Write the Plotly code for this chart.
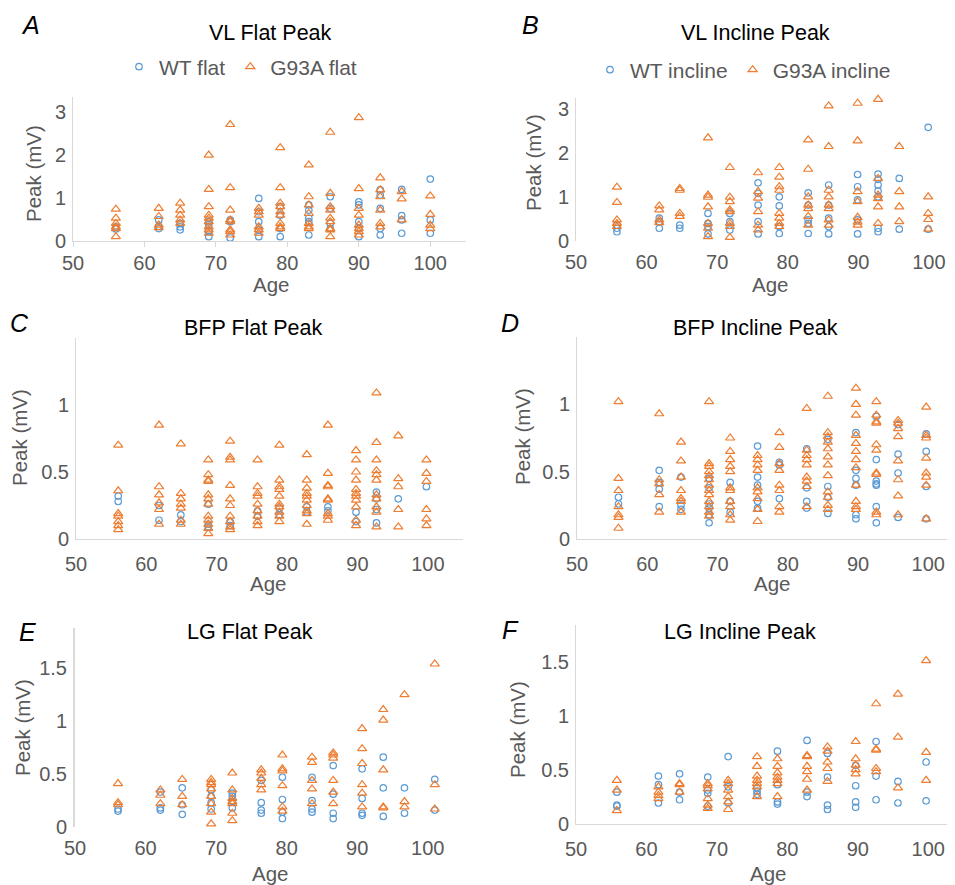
import plotly.graph_objects as go

# ---------------- data ----------------
ages_A = [56, 62, 65, 69, 72, 76, 79, 83, 86, 90, 93, 96, 100]
wt_A = [[0.33, 0.28], [0.49, 0.34, 0.29], [0.41, 0.33, 0.26], [0.45, 0.38, 0.22, 0.10],
        [0.49, 0.45, 0.07], [0.99, 0.68, 0.45, 0.26, 0.10], [0.80, 0.60, 0.29, 0.10],
        [0.84, 0.72, 0.53, 0.45, 0.14], [1.03, 0.76, 0.41, 0.29], [0.91, 0.84, 0.45, 0.29, 0.10],
        [1.19, 1.07, 0.76, 0.29, 0.14], [1.20, 0.59, 0.49, 0.18], [1.44, 0.49, 0.18]]
g93a_A = [[0.74, 0.53, 0.41, 0.33, 0.29, 0.10], [0.76, 0.57, 0.37, 0.31], [0.88, 0.72, 0.60, 0.49, 0.41],
          [2.00, 1.20, 0.80, 0.60, 0.53, 0.45, 0.33, 0.26, 0.18], [2.71, 1.24, 0.72, 0.49, 0.45, 0.26, 0.22, 0.14],
          [0.76, 0.68, 0.60, 0.33, 0.26, 0.18], [2.17, 1.24, 0.88, 0.80, 0.68, 0.60, 0.41, 0.33, 0.29],
          [1.77, 1.03, 0.84, 0.64, 0.41, 0.33, 0.29], [2.53, 1.11, 0.80, 0.72, 0.53, 0.45, 0.29, 0.26, 0.10],
          [2.87, 1.22, 0.76, 0.60, 0.37, 0.29, 0.22, 0.14], [1.47, 1.19, 1.03, 0.72, 0.41, 0.33],
          [1.15, 0.98, 0.49], [1.05, 0.62, 0.37, 0.29]]

ages_B = [55.8, 61.8, 64.7, 68.7, 71.8, 75.8, 78.8, 82.9, 85.8, 89.9, 92.8, 95.8, 99.9]
wt_B = [[0.35, 0.28, 0.20], [0.51, 0.43, 0.28], [0.35, 0.28], [0.62, 0.39, 0.32, 0.15],
        [0.62, 0.43, 0.24], [1.32, 1.08, 0.81, 0.43, 0.15], [1.00, 0.79, 0.32, 0.16],
        [1.09, 0.81, 0.47, 0.39, 0.16], [1.27, 0.81, 0.51, 0.32, 0.15], [1.51, 1.23, 0.93, 0.47, 0.15],
        [1.52, 1.40, 1.27, 1.13, 1.00, 0.28, 0.20], [1.42, 0.26], [2.59, 0.26]]
g93a_B = [[1.22, 0.87, 0.47, 0.39, 0.32], [0.79, 0.70, 0.47, 0.41], [1.19, 1.15, 0.62, 0.55],
          [2.35, 1.04, 0.99, 0.77, 0.39, 0.28, 0.09], [1.67, 0.99, 0.89, 0.70, 0.66, 0.39, 0.32, 0.07],
          [1.55, 1.12, 0.97, 0.66, 0.35, 0.24], [1.67, 1.45, 1.23, 1.15, 0.62, 0.51, 0.39, 0.32],
          [2.30, 1.63, 1.00, 0.81, 0.73, 0.55, 0.35], [3.08, 2.15, 1.15, 1.00, 0.81, 0.73, 0.47, 0.35],
          [3.14, 2.28, 1.12, 0.89, 0.53, 0.42, 0.35], [3.23, 1.42, 1.04, 0.96, 0.77, 0.39],
          [2.15, 1.12, 0.77, 0.43], [1.00, 0.62, 0.48, 0.26]]

ages_C = [56.0, 61.8, 64.9, 68.8, 71.9, 75.8, 78.9, 82.8, 85.8, 89.8, 92.7, 95.8, 99.8]
wt_C = [[0.32, 0.28], [0.25, 0.14], [0.18, 0.13], [0.26, 0.11, 0.09], [0.13, 0.10], [0.21, 0.17],
        [0.23, 0.18], [0.24, 0.20], [0.24, 0.21], [0.20, 0.13], [0.35, 0.30, 0.22, 0.12], [0.30], [0.39]]
g93a_C = [[0.70, 0.36, 0.19, 0.17, 0.13, 0.10, 0.07], [0.85, 0.39, 0.33, 0.27, 0.22, 0.11],
          [0.71, 0.34, 0.30, 0.26, 0.23, 0.14, 0.11],
          [0.59, 0.48, 0.44, 0.43, 0.33, 0.30, 0.26, 0.17, 0.14, 0.11, 0.08, 0.04],
          [0.73, 0.61, 0.59, 0.40, 0.30, 0.25, 0.17, 0.13, 0.09, 0.07],
          [0.59, 0.39, 0.34, 0.32, 0.26, 0.21, 0.17, 0.13, 0.10],
          [0.70, 0.44, 0.39, 0.37, 0.32, 0.26, 0.24, 0.20, 0.17, 0.13],
          [0.63, 0.44, 0.38, 0.34, 0.32, 0.29, 0.25, 0.21, 0.19, 0.11],
          [0.85, 0.49, 0.40, 0.39, 0.30, 0.29, 0.19, 0.17, 0.14],
          [0.66, 0.59, 0.50, 0.44, 0.37, 0.34, 0.32, 0.29, 0.24, 0.14, 0.10],
          [1.09, 0.72, 0.59, 0.51, 0.48, 0.44, 0.33, 0.30, 0.24, 0.20, 0.09],
          [0.77, 0.45, 0.39, 0.22, 0.09], [0.59, 0.49, 0.43, 0.22, 0.15, 0.10]]

ages_D = [55.9, 61.7, 64.8, 68.8, 71.8, 75.7, 78.8, 82.7, 85.7, 89.7, 92.6, 95.7, 99.7]
wt_D = [[0.31, 0.26], [0.51, 0.42, 0.37, 0.24], [0.46, 0.25, 0.22], [0.45, 0.38, 0.26, 0.23, 0.18, 0.12],
        [0.42, 0.28, 0.20], [0.69, 0.46, 0.40, 0.28, 0.23], [0.57, 0.55, 0.30], [0.67, 0.38, 0.28, 0.23],
        [0.74, 0.39, 0.31, 0.19], [0.79, 0.51, 0.45, 0.40, 0.18, 0.15],
        [0.91, 0.59, 0.43, 0.41, 0.40, 0.24, 0.12], [0.85, 0.63, 0.49, 0.16], [0.78, 0.65, 0.39, 0.15]]
g93a_D = [[1.02, 0.45, 0.36, 0.24, 0.18, 0.16, 0.08], [0.93, 0.44, 0.41, 0.33, 0.20],
          [0.72, 0.58, 0.46, 0.36, 0.30, 0.28, 0.20],
          [1.02, 0.56, 0.54, 0.50, 0.47, 0.44, 0.40, 0.36, 0.33, 0.28, 0.24, 0.20, 0.17],
          [0.75, 0.65, 0.59, 0.54, 0.50, 0.38, 0.36, 0.28, 0.24, 0.18, 0.14],
          [0.62, 0.59, 0.55, 0.51, 0.38, 0.35, 0.30, 0.22, 0.13],
          [0.79, 0.68, 0.56, 0.51, 0.40, 0.36, 0.24, 0.20],
          [0.97, 0.66, 0.62, 0.59, 0.55, 0.46, 0.43, 0.39, 0.24],
          [1.06, 0.79, 0.76, 0.72, 0.67, 0.61, 0.55, 0.47, 0.35, 0.31, 0.25, 0.22],
          [1.12, 1.00, 0.92, 0.77, 0.71, 0.65, 0.59, 0.53, 0.40, 0.28, 0.24, 0.22],
          [1.02, 0.92, 0.87, 0.86, 0.70, 0.66, 0.49, 0.48, 0.20, 0.18],
          [0.88, 0.86, 0.82, 0.76, 0.58, 0.44, 0.32, 0.18],
          [0.98, 0.77, 0.75, 0.60, 0.49, 0.46, 0.40, 0.15]]

ages_E = [56.1, 62.1, 65.2, 69.3, 72.3, 76.4, 79.4, 83.6, 86.6, 90.7, 93.7, 96.7, 101.0]
wt_E = [[0.17, 0.15], [0.33, 0.18, 0.16], [0.37, 0.21, 0.12], [0.35, 0.29, 0.23, 0.17],
        [0.32, 0.29, 0.24, 0.18], [0.44, 0.23, 0.16, 0.13], [0.47, 0.26, 0.14, 0.08],
        [0.47, 0.25, 0.17, 0.14], [0.58, 0.31, 0.13, 0.08], [0.55, 0.27, 0.13, 0.11],
        [0.66, 0.37, 0.10], [0.37, 0.13], [0.45, 0.16]]
g93a_E = [[0.41, 0.23, 0.21], [0.35, 0.30, 0.22], [0.45, 0.29, 0.21],
          [0.45, 0.42, 0.40, 0.36, 0.29, 0.22, 0.14, 0.03], [0.51, 0.35, 0.27, 0.24, 0.22, 0.13, 0.06],
          [0.54, 0.51, 0.46, 0.40, 0.35], [0.68, 0.55, 0.53, 0.39, 0.19, 0.15],
          [0.66, 0.61, 0.44, 0.36, 0.22], [0.70, 0.68, 0.65, 0.44, 0.33, 0.22],
          [0.93, 0.74, 0.60, 0.40, 0.32, 0.19], [1.11, 1.01, 0.54, 0.19, 0.18],
          [1.25, 0.24, 0.19], [1.54, 0.40, 0.17]]

ages_F = [55.8, 61.7, 64.7, 68.7, 71.6, 75.7, 78.6, 82.8, 85.7, 89.7, 92.6, 95.7, 99.7]
wt_F = [[0.29, 0.17, 0.16], [0.44, 0.36, 0.19], [0.46, 0.29, 0.22], [0.43, 0.31, 0.28, 0.16],
        [0.62, 0.34, 0.19], [0.33, 0.30, 0.27], [0.67, 0.36, 0.20, 0.18], [0.77, 0.29, 0.25],
        [0.65, 0.43, 0.17, 0.13], [0.54, 0.35, 0.20, 0.15], [0.76, 0.44, 0.22], [0.39, 0.19], [0.57, 0.21]]
g93a_F = [[0.40, 0.31, 0.12], [0.34, 0.29, 0.26, 0.23], [0.37, 0.36, 0.29],
          [0.37, 0.35, 0.32, 0.23, 0.17, 0.14], [0.40, 0.37, 0.31, 0.25, 0.20, 0.13],
          [0.62, 0.53, 0.44, 0.40, 0.37, 0.34, 0.25], [0.60, 0.53, 0.47, 0.43, 0.40, 0.37, 0.25],
          [0.63, 0.62, 0.53, 0.48, 0.41, 0.31], [0.71, 0.67, 0.57, 0.51, 0.39],
          [0.76, 0.60, 0.54, 0.50, 0.46], [1.11, 0.69, 0.68, 0.51, 0.48], [1.20, 0.80, 0.33], [1.51, 0.66, 0.40]]

titles = ["VL Flat Peak", "VL Incline Peak", "BFP Flat Peak", "BFP Incline Peak", "LG Flat Peak", "LG Incline Peak"]
letters = ["A", "B", "C", "D", "E", "F"]
wt_names = ["WT flat", "WT incline"]
g93a_names = ["G93A flat", "G93A incline"]
x_title = "Age"
y_title = "Peak (mV)"
x_ticks = [50, 60, 70, 80, 90, 100]
y_ticks = [[0, 1, 2, 3], [0, 1, 2, 3], [0, 0.5, 1], [0, 0.5, 1], [0, 0.5, 1, 1.5], [0, 0.5, 1, 1.5]]

# ---------------- styling ----------------
W, H = 955, 885
OFF = 8  # the page body adds an 8px margin; lay out in window pixels
BLUE = "#5B9BD5"
ORANGE = "#ED7D31"
GREY = "#595959"
LINE = "#d9d9d9"
FONT = "Liberation Sans, Arial, sans-serif"


def px_x(p):
    return min(1.0, (p - OFF) / W)


def px_y(p):
    return max(0.0, 1 - (p - OFF) / H)


# panel geometry in window pixels: (left, right, top, bottom)
panels = [
    dict(ages=ages_A, wt=wt_A, g=g93a_A, dom=(73, 466, 97, 241), xr=(50, 105), yr=(0, 3.35),
         xline=True, ticks=True),
    dict(ages=ages_B, wt=wt_B, g=g93a_B, dom=(576, 955, 98, 240.5), xr=(50, 103.7), yr=(0, 3.26),
         xline=False, ticks=False),
    dict(ages=ages_C, wt=wt_C, g=g93a_C, dom=(76, 463, 338, 539), xr=(50, 105), yr=(0, 1.5),
         xline=True, ticks=False),
    dict(ages=ages_D, wt=wt_D, g=g93a_D, dom=(577, 955, 337, 539), xr=(50, 103.8), yr=(0, 1.5),
         xline=True, ticks=False),
    dict(ages=ages_E, wt=wt_E, g=g93a_E, dom=(75, 463, 628, 827), xr=(50, 105), yr=(0, 1.88),
         xline=False, ticks=False),
    dict(ages=ages_F, wt=wt_F, g=g93a_F, dom=(576, 955, 625, 823.5), xr=(50, 103.8), yr=(0, 1.84),
         xline=True, ticks=False),
]


def flatten(ages, groups):
    xs, ys = [], []
    for a, vals in zip(ages, groups):
        for v in vals:
            xs.append(a)
            ys.append(v)
    return xs, ys


fig = go.Figure()
layout = dict(template="none", width=W, height=H, margin=dict(l=0, r=0, t=0, b=0, autoexpand=False),
              paper_bgcolor="white", plot_bgcolor="white",
              font=dict(family=FONT, color=GREY, size=20))
annotations = []

for i, p in enumerate(panels):
    k = "" if i == 0 else str(i + 1)
    xa, ya = "x" + k, "y" + k
    show = i < 2
    legend_name = "legend" if i == 0 else "legend2"
    wx, wy = flatten(p["ages"], p["wt"])
    gx, gy = flatten(p["ages"], p["g"])
    tr_kw = dict(legend=legend_name) if show else {}
    fig.add_trace(go.Scatter(
        x=wx, y=wy, mode="markers", xaxis=xa, yaxis=ya, cliponaxis=False,
        name=wt_names[i % 2], showlegend=show, **tr_kw,
        marker=dict(symbol="circle-open", size=6.5, color=BLUE, line=dict(width=1.2, color=BLUE))))
    fig.add_trace(go.Scatter(
        x=gx, y=gy, mode="markers", xaxis=xa, yaxis=ya, cliponaxis=False,
        name=g93a_names[i % 2], showlegend=show, **tr_kw,
        marker=dict(symbol="triangle-up-open", size=8, color=ORANGE, line=dict(width=1.2, color=ORANGE))))

    l, r, t, b = p["dom"]
    layout["xaxis" + k] = dict(
        domain=[px_x(l), px_x(r)], range=list(p["xr"]), anchor=ya, automargin=False,
        tickmode="array", tickvals=x_ticks, showgrid=False, zeroline=False,
        showline=p["xline"], linecolor=LINE, linewidth=1,
        ticks="outside" if p["ticks"] else "", ticklen=5, tickcolor=LINE,
        ticklabelstandoff=-1 if p["ticks"] else 7,
        tickfont=dict(size=20, color=GREY, family=FONT))
    layout["yaxis" + k] = dict(
        domain=[px_y(b), px_y(t)], range=list(p["yr"]), anchor=xa, automargin=False,
        tickmode="array", tickvals=y_ticks[i], showgrid=False, zeroline=False,
        showline=True, linecolor=LINE, linewidth=2 if i == 4 else 1,
        ticks="", ticklabelstandoff=2, tickfont=dict(size=20, color=GREY, family=FONT))

# titles, panel letters, axis titles (window pixel positions)
title_pos = [(270, 33), (755, 33), (253, 328), (755, 328), (250, 632), (740, 632)]
letter_pos = [(30, 25), (530, 25), (19, 323), (510, 323), (27, 632), (510, 630)]
xtitle_pos = [(271, 284), (770, 284), (268, 583), (772, 583), (270, 873), (768, 873)]
ytitle_pos = [(33, 174), (533, 163), (20, 438), (522, 437), (22, 728), (517, 730)]
for i in range(6):
    tx, ty = title_pos[i]
    annotations.append(dict(text=titles[i], x=px_x(tx), y=px_y(ty), xref="paper", yref="paper",
                            showarrow=False, xanchor="center", yanchor="middle",
                            font=dict(size=21.5, color="black", family=FONT)))
    lx, ly = letter_pos[i]
    annotations.append(dict(text="<i>" + letters[i] + "</i>", x=px_x(lx), y=px_y(ly),
                            xref="paper", yref="paper", showarrow=False,
                            xanchor="center", yanchor="middle",
                            font=dict(size=25, color="black", family=FONT)))
    ax_, ay_ = xtitle_pos[i]
    annotations.append(dict(text=x_title, x=px_x(ax_), y=px_y(ay_), xref="paper", yref="paper",
                            showarrow=False, xanchor="center", yanchor="middle",
                            font=dict(size=20.5, color=GREY, family=FONT)))
    bx_, by_ = ytitle_pos[i]
    annotations.append(dict(text=y_title, x=px_x(bx_), y=px_y(by_), xref="paper", yref="paper",
                            showarrow=False, xanchor="center", yanchor="middle", textangle=-90,
                            font=dict(size=20.5, color=GREY, family=FONT)))

layout["annotations"] = annotations
layout["legend"] = dict(orientation="h", x=px_x(119), y=px_y(67), xanchor="left", yanchor="middle",
                        font=dict(size=21, color=GREY, family=FONT), bgcolor="rgba(0,0,0,0)",
                        itemwidth=30, tracegroupgap=0)
layout["legend2"] = dict(orientation="h", x=px_x(590), y=px_y(70), xanchor="left", yanchor="middle",
                         font=dict(size=21, color=GREY, family=FONT), bgcolor="rgba(0,0,0,0)",
                         itemwidth=30, tracegroupgap=0)

fig.update_layout(**layout)
fig.write_html("out.html")
